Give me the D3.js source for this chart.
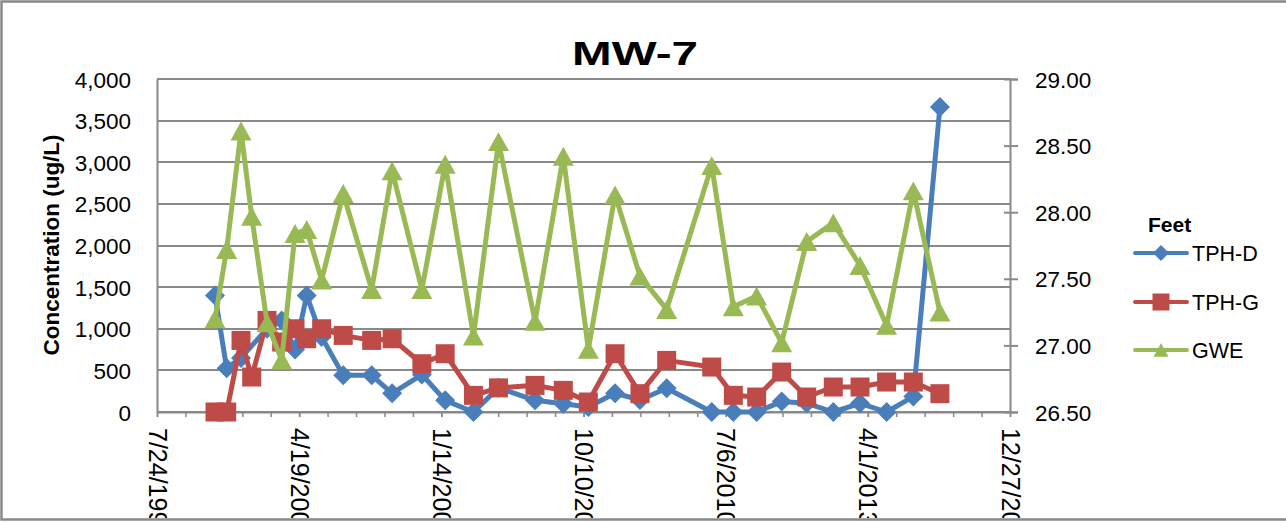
<!DOCTYPE html>
<html>
<head>
<meta charset="utf-8">
<script src="https://cdn.jsdelivr.net/npm/d3@7"></script>
<style>
body { margin: 0; background: #fff; }
svg { display: block; }
text { font-family: "Liberation Sans", Arial, sans-serif; fill: #000; }
</style>
</head>
<body>
<script>
// sample dates (shared by all three series)
var sampleDates = ["9/4/2000", "11/25/2000", "3/6/2001", "5/20/2001", "9/5/2001", "12/17/2001",
    "3/21/2002", "6/11/2002", "9/24/2002", "2/23/2003", "9/11/2003", "2/2/2004",
    "8/29/2004", "2/9/2005", "8/27/2005", "2/19/2006", "11/3/2006", "5/21/2007",
    "11/13/2007", "5/19/2008", "11/10/2008", "5/17/2009", "3/30/2010", "8/29/2010",
    "2/9/2011", "8/4/2011", "1/27/2012", "8/1/2012", "2/5/2013", "8/11/2013",
    "2/15/2014", "8/21/2014"];

var tphD = [1400, 525, 650, null, 1000, 1100, 750, 1400, 900, 440, 440, 225,
    450, 140, 0, 290, 140, 100, 60, 225, 145, 285, 0, 0,
    0, 125, 105, 0, 105, 0, 185, 3665];

var tphG = [0, 0, 860, 420, 1100, 840, 1000, 880, 1000, 920, 860, 880,
    580, 700, 200, 290, 320, 260, 120, 700, 220, 620, 540, 200,
    180, 480, 180, 300, 300, 360, 360, 220];

var gwe = [27.20, 27.72, 28.61, 27.97, 27.17, 26.89, 27.84, 27.87, 27.49, 28.14, 27.42, 28.31,
    27.42, 28.36, 27.07, 28.53, 27.18, 28.42, 26.97, 28.13, 27.52, 27.27, 28.35, 27.29,
    27.37, 27.02, 27.78, 27.92, 27.60, 27.15, 28.16, 27.25];

var seriesNames = ["TPH-D", "TPH-G", "GWE"];
var seriesColors = ["#4A7EBB", "#BE4B48", "#98B954"];
var leftTicks = [0, 500, 1000, 1500, 2000, 2500, 3000, 3500, 4000];
var rightTicks = [26.5, 27.0, 27.5, 28.0, 28.5, 29.0];
var xTickLabels = ["7/24/1999", "4/19/2002", "1/14/2005", "10/10/2007", "7/6/2010", "4/1/2013", "12/27/2015"];
var majorStepDays = 1000, minorStepDays = 200;

var width = 1286, height = 522;
var plot = {left: 157, right: 1010, top: 79, bottom: 412};

var parse = d3.timeParse("%m/%d/%Y");
var start = parse(xTickLabels[0]);
var end = d3.timeDay.offset(start, majorStepDays * (xTickLabels.length - 1));

var svg = d3.select("body").append("svg")
    .attr("width", width)
    .attr("height", height);

svg.append("rect").attr("width", width).attr("height", height).attr("fill", "#fff");

var x = d3.scaleTime().domain([start, end]).range([plot.left, plot.right]);
var yL = d3.scaleLinear().domain([0, 4000]).range([plot.bottom, plot.top]);
var yR = d3.scaleLinear().domain([26.5, 29]).range([plot.bottom, plot.top]);

var majorTicks = xTickLabels.map(function (d, i) { return d3.timeDay.offset(start, i * majorStepDays); });
var minorTicks = d3.range(0, 31).map(function (i) { return d3.timeDay.offset(start, i * minorStepDays); });

// gridlines
svg.append("g")
    .selectAll("line")
    .data(leftTicks)
    .enter().append("line")
    .attr("x1", plot.left).attr("x2", plot.right)
    .attr("y1", function (d) { return Math.round(yL(d)); })
    .attr("y2", function (d) { return Math.round(yL(d)); })
    .attr("stroke", "#898989")
    .attr("stroke-width", 2);

// left axis
var leftAxis = svg.append("g")
    .attr("transform", "translate(" + plot.left + ",0)")
    .call(d3.axisLeft(yL).tickValues(leftTicks).tickSize(0).tickPadding(26).tickFormat(d3.format(",")));
leftAxis.select(".domain").attr("stroke", "#898989").attr("stroke-width", 2);
leftAxis.selectAll("text").style("font-size", "22.5px").attr("dy", "0.36em");

// right axis
var rightAxis = svg.append("g")
    .attr("transform", "translate(" + plot.right + ",0)")
    .call(d3.axisRight(yR).tickValues(rightTicks).tickSizeOuter(0).tickSize(8).tickPadding(17).tickFormat(d3.format(".2f")));
rightAxis.select(".domain").attr("stroke", "#898989").attr("stroke-width", 2);
rightAxis.selectAll(".tick line").attr("x1", -6).attr("stroke", "#898989").attr("stroke-width", 2);
rightAxis.selectAll("text").style("font-size", "22.5px").attr("dy", "0.36em");

// x axis (labels run off the bottom edge, as in the original)
svg.append("defs").append("clipPath").attr("id", "clipX")
    .append("rect").attr("x", 0).attr("y", 0).attr("width", width).attr("height", 518);

var minorAxis = svg.append("g")
    .attr("transform", "translate(0," + plot.bottom + ")")
    .call(d3.axisBottom(x).tickValues(minorTicks).tickSize(5).tickSizeOuter(0).tickFormat(""));
minorAxis.select(".domain").attr("stroke", "#898989").attr("stroke-width", 2);
minorAxis.selectAll(".tick line").attr("stroke", "#898989").attr("stroke-width", 1.5);

var xAxis = svg.append("g")
    .attr("clip-path", "url(#clipX)")
    .append("g")
    .attr("transform", "translate(0," + plot.bottom + ")")
    .call(d3.axisBottom(x).tickValues(majorTicks).tickSize(5).tickSizeOuter(0)
        .tickFormat(function (d, i) { return xTickLabels[i]; }));
xAxis.select(".domain").remove();
xAxis.selectAll(".tick line").attr("stroke", "#898989").attr("stroke-width", 1.5);
xAxis.selectAll("text")
    .style("font-size", "25px")
    .attr("text-anchor", "start")
    .attr("transform", "rotate(90)")
    .attr("x", 16)
    .attr("y", 0)
    .attr("dy", "0.36em");

// marker shapes
function markerPath(kind, s) {
    var h = s / 2;
    if (kind === 0) return "M0," + (-h) + "L" + h + ",0L0," + h + "L" + (-h) + ",0Z";
    if (kind === 1) return "M" + (-h) + "," + (-h) + "H" + h + "V" + h + "H" + (-h) + "Z";
    return "M0," + (-h * 0.9) + "L" + (h) + "," + (h * 0.9) + "L" + (-h) + "," + (h * 0.9) + "Z";
}

var seriesValues = [tphD, tphG, gwe];
var seriesScales = [yL, yL, yR];
var markerSizes = [20, 19, 21];

seriesValues.forEach(function (vals, si) {
    var pts = sampleDates.map(function (d, i) { return {date: parse(d), value: vals[i]}; })
        .filter(function (p) { return p.value !== null; });
    var y = seriesScales[si];
    var line = d3.line()
        .x(function (d) { return x(d.date); })
        .y(function (d) { return y(d.value); });
    var g = svg.append("g");
    g.append("path")
        .datum(pts)
        .attr("d", line)
        .attr("fill", "none")
        .attr("stroke", seriesColors[si])
        .attr("stroke-width", 5)
        .attr("stroke-linejoin", "round")
        .attr("stroke-linecap", "round");
    g.selectAll(".m")
        .data(pts)
        .enter().append("path")
        .attr("transform", function (d) { return "translate(" + x(d.date) + "," + y(d.value) + ")"; })
        .attr("d", markerPath(si, markerSizes[si]))
        .attr("fill", seriesColors[si]);
});

// title
svg.append("text")
    .attr("x", 635)
    .attr("y", 65)
    .attr("text-anchor", "middle")
    .attr("textLength", 126)
    .attr("lengthAdjust", "spacingAndGlyphs")
    .style("font-size", "33px")
    .style("font-weight", "bold")
    .text("MW-7");

// y axis title
svg.append("text")
    .attr("transform", "translate(51,245) rotate(-90)")
    .attr("text-anchor", "middle")
    .attr("dy", "0.36em")
    .style("font-size", "22.5px")
    .style("font-weight", "bold")
    .text("Concentration (ug/L)");

// legend
var legend = svg.append("g");
legend.append("text")
    .attr("x", 1148)
    .attr("y", 232)
    .style("font-size", "21px")
    .style("font-weight", "bold")
    .text("Feet");

var legendRows = [253, 302, 350];
var legendMarker = [16, 17, 15];
seriesNames.forEach(function (name, i) {
    var row = legend.append("g").attr("transform", "translate(0," + legendRows[i] + ")");
    row.append("line")
        .attr("x1", 1135).attr("x2", 1187)
        .attr("stroke", seriesColors[i])
        .attr("stroke-width", 4)
        .attr("stroke-linecap", "round");
    row.append("path")
        .attr("transform", "translate(1161,0)")
        .attr("d", markerPath(i, legendMarker[i]))
        .attr("fill", seriesColors[i]);
    row.append("text")
        .attr("x", 1192)
        .attr("dy", "0.36em")
        .style("font-size", "21.5px")
        .text(name);
});

// chart border (right side runs off the picture)
svg.append("path")
    .attr("d", "M1290,1.5H1.5V519.5H1290")
    .attr("fill", "none")
    .attr("stroke", "#898989")
    .attr("stroke-width", 2.5);
</script>
</body>
</html>
